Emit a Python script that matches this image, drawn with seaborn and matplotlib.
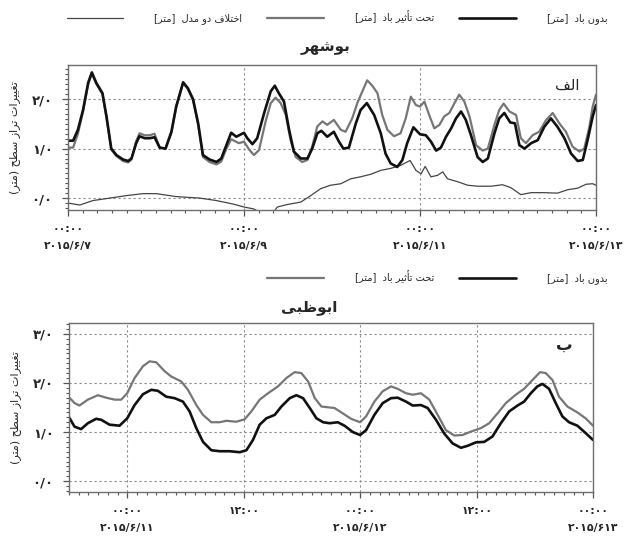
import matplotlib
matplotlib.use("Agg")
import matplotlib.pyplot as plt
import matplotlib.dates as mdates
from matplotlib.lines import Line2D
from matplotlib.ticker import MultipleLocator, FuncFormatter
import pandas as pd
import seaborn as sns

# ---------------- data ----------------
# Bushehr, hours after 2015-06-07 00:00, water level change [m]
bush_calm_h = [0, 1.4, 2.7, 4.1, 5.5, 6.5, 7.7, 9.4, 10.5, 11.8, 13.2, 15, 16.4, 17.3, 18.6, 19.5,
               20.9, 22.3, 23.6, 25, 26.6, 28.2, 29.5, 31.4, 32.7, 34.1, 35.5, 36.8, 38.6, 40.5,
               41.8, 43.2, 44.5, 45.9, 48, 48.9, 50.3, 51.6, 53.5, 55.3, 56.4, 57.5, 58.9, 60.3,
               61.6, 63.5, 65.3, 66.6, 68, 69.1, 70.7, 72.5, 73.9, 75.1, 76.6, 78.5, 79.8, 81.5,
               83.5, 85.3, 86.6, 88, 89.8, 91.2, 92.5, 94.2, 96, 97.6, 99, 100.4, 101.7, 103.1,
               104.5, 105.8, 107.2, 108.5, 109.9, 111.7, 113.1, 114.5, 116.3, 117.6, 119, 120.6,
               121.9, 123.1, 124.5, 126.3, 128.1, 129.9, 131.7, 133.5, 135.4, 137.2, 139, 140.4,
               141.7, 143.1, 144]
bush_calm_m = [1.16, 1.16, 1.38, 1.78, 2.33, 2.54, 2.33, 2.12, 1.65, 1.0, 0.87, 0.78, 0.75, 0.80,
               1.11, 1.25, 1.21, 1.21, 1.23, 1.02, 1.0, 1.34, 1.85, 2.34, 2.22, 2.0, 1.51, 0.87,
               0.78, 0.73, 0.80, 1.07, 1.32, 1.24, 1.32, 1.21, 1.09, 1.21, 1.72, 2.16, 2.27, 2.12,
               1.95, 1.38, 0.94, 0.80, 0.80, 1.0, 1.31, 1.36, 1.24, 1.34, 1.14, 1.0, 1.02, 1.51,
               1.78, 1.92, 1.68, 1.31, 0.90, 0.70, 0.63, 0.77, 1.11, 1.43, 1.29, 1.27, 1.14, 0.96,
               1.02, 1.24, 1.41, 1.61, 1.75, 1.58, 1.27, 0.83, 0.73, 0.80, 1.31, 1.61, 1.72, 1.53,
               1.51, 1.07, 1.0, 1.11, 1.17, 1.44, 1.61, 1.44, 1.21, 0.90, 0.75, 0.77, 1.17, 1.65,
               1.88]

bush_wind_h = [0, 1.4, 2.7, 4.1, 5.5, 6.5, 7.7, 9.4, 10.5, 11.8, 13.2, 15, 16.4, 17.3, 18.6, 19.5,
               20.9, 22.3, 23.6, 25, 26.6, 28.2, 29.5, 31.4, 32.7, 34.1, 35.5, 36.8, 38.6, 40.5,
               41.8, 43.2, 44.5, 46.6, 48, 49.4, 50.7, 52.1, 53.9, 55.3, 56.6, 58, 59.4, 60.7,
               62.1, 63.9, 65.3, 66.6, 68, 69.4, 70.7, 72.5, 74.4, 75.7, 77.5, 78.9, 80.3, 81.6,
               83, 84.4, 85.7, 87.1, 88.9, 90.7, 92.1, 93.5, 94.9, 96, 97.2, 98.5, 99.9, 101.3,
               102.6, 104, 105.4, 106.7, 108.1, 109.5, 111.3, 113.1, 114.5, 116.3, 117.6, 118.8,
               120.4, 122.2, 123.5, 124.9, 126.7, 128.5, 130.4, 132.2, 134, 135.8, 137.6, 139.5,
               140.8, 142.2, 143.1, 144]
bush_wind_m = [1.02, 1.02, 1.30, 1.75, 2.30, 2.52, 2.31, 2.10, 1.62, 0.98, 0.85, 0.75, 0.72, 0.78,
               1.15, 1.31, 1.27, 1.27, 1.30, 1.02, 1.0, 1.32, 1.83, 2.33, 2.20, 1.98, 1.48, 0.83,
               0.73, 0.68, 0.74, 1.0, 1.19, 1.11, 1.14, 0.98, 0.87, 0.97, 1.55, 1.92, 2.03, 1.92,
               1.68, 1.17, 0.83, 0.73, 0.77, 1.04, 1.45, 1.55, 1.48, 1.58, 1.38, 1.34, 1.61, 1.92,
               2.16, 2.38, 2.27, 2.12, 1.68, 1.38, 1.25, 1.31, 1.61, 2.05, 1.88, 1.85, 1.95, 1.68,
               1.41, 1.48, 1.65, 1.72, 1.92, 2.09, 1.95, 1.65, 1.07, 0.96, 1.0, 1.48, 1.78, 1.91,
               1.75, 1.68, 1.21, 1.11, 1.27, 1.34, 1.58, 1.72, 1.51, 1.34, 1.04, 0.94, 1.0, 1.44,
               1.85, 2.09]

bush_diff_h = [0, 3.2, 6.8, 11.4, 15.9, 20.5, 24.1, 29.5, 35.9, 40.5, 45, 48, 50.7, 52.5, 55.3,
               56.2, 57.1, 59.8, 63.5, 66.2, 68.9, 71.6, 74.4, 77.1, 79.8, 82.5, 85.3, 88, 90.7,
               92.5, 93.3, 94.9, 96.3, 97.4, 99, 100.8, 102.2, 103.5, 106.3, 109, 111.7, 115.4,
               118.5, 120.8, 123.5, 126.3, 129.9, 133.5, 136.3, 139, 141.3, 143.1, 144]
bush_diff_m = [-0.10, -0.14, -0.05, 0.0, 0.05, 0.09, 0.09, 0.03, 0.0, -0.05, -0.12, -0.18, -0.22,
               -0.30, -0.28, -0.27, -0.18, -0.13, -0.08, 0.05, 0.19, 0.26, 0.29, 0.39, 0.43, 0.48,
               0.56, 0.60, 0.66, 0.73, 0.76, 0.56, 0.49, 0.64, 0.43, 0.46, 0.53, 0.39, 0.33, 0.26,
               0.24, 0.24, 0.27, 0.21, 0.07, 0.11, 0.11, 0.10, 0.17, 0.20, 0.28, 0.29, 0.26]

# Abu Dhabi, hours after 2015-06-11 00:00
abu_calm_h = [-6.05, -5.43, -4.75, -4.06, -3.2, -2.68, -1.82, -0.79, 0, 0.76, 1.62, 2.48, 3.16,
              4.02, 4.88, 5.74, 6.43, 7.12, 7.81, 8.67, 9.53, 10.56, 11.59, 12.28, 12.96, 13.65,
              14.34, 15.2, 15.89, 16.75, 17.43, 18.12, 18.81, 19.5, 20.19, 20.87, 21.7, 22.39,
              23.25, 24, 24.62, 25.47, 26.33, 27.19, 27.87, 28.73, 29.42, 30.27, 30.96, 31.82,
              32.67, 33.53, 34.39, 35.07, 35.93, 36.79, 37.64, 38.5, 39.36, 40.22, 40.9, 41.59,
              42.27, 42.79, 43.47, 44.16, 44.84, 45.53, 46.39, 47.07, 48]
abu_calm_m = [1.32, 1.11, 1.06, 1.18, 1.27, 1.25, 1.15, 1.13, 1.28, 1.55, 1.77, 1.86, 1.84, 1.72,
              1.69, 1.62, 1.42, 1.08, 0.80, 0.63, 0.61, 0.61, 0.59, 0.63, 0.84, 1.15, 1.28, 1.35,
              1.52, 1.69, 1.75, 1.69, 1.49, 1.28, 1.20, 1.18, 1.20, 1.13, 1.0, 0.94, 1.04, 1.35,
              1.59, 1.69, 1.70, 1.62, 1.54, 1.55, 1.49, 1.25, 0.97, 0.77, 0.68, 0.72, 0.79, 0.80,
              0.91, 1.18, 1.42, 1.54, 1.62, 1.79, 1.93, 1.98, 1.88, 1.59, 1.32, 1.20, 1.13, 1.01,
              0.84]

abu_wind_h = [-6.05, -5.43, -4.92, -4.06, -3.03, -2.17, -1.31, -0.62, 0, 0.76, 1.62, 2.3, 2.99,
              3.85, 4.54, 5.57, 6.26, 7.12, 7.81, 8.67, 9.53, 10.21, 11.24, 12.1, 12.79, 13.65,
              14.51, 15.54, 16.4, 17.26, 17.95, 18.64, 19.33, 20.01, 20.87, 21.36, 22.22, 23.07,
              24, 24.62, 25.47, 26.33, 27.19, 27.87, 28.73, 29.42, 30.27, 31.13, 31.99, 32.84,
              33.7, 34.56, 35.42, 36.44, 37.3, 38.16, 39.02, 40.04, 40.9, 41.76, 42.55, 43.13,
              43.82, 44.5, 45.36, 46.39, 47.24, 48]
abu_wind_m = [1.72, 1.59, 1.54, 1.66, 1.75, 1.70, 1.66, 1.66, 1.79, 2.10, 2.34, 2.44, 2.42, 2.24,
              2.13, 2.03, 1.86, 1.55, 1.35, 1.20, 1.20, 1.23, 1.21, 1.26, 1.42, 1.66, 1.79, 1.93,
              2.10, 2.22, 2.20, 2.03, 1.69, 1.52, 1.50, 1.49, 1.38, 1.27, 1.20, 1.32, 1.62, 1.83,
              1.93, 1.88, 1.79, 1.76, 1.79, 1.66, 1.35, 1.04, 0.93, 0.94, 1.01, 1.08, 1.18, 1.38,
              1.59, 1.76, 1.88, 2.06, 2.22, 2.20, 2.06, 1.72, 1.52, 1.40, 1.28, 1.13]

bush_ticks = ["2015-06-07", "2015-06-09", "2015-06-11", "2015-06-13"]
bush_tick_labels = ["۰۰:۰۰\n۲۰۱۵/۶/۷", "۰۰:۰۰\n۲۰۱۵/۶/۹", "۰۰:۰۰\n۲۰۱۵/۶/۱۱", "۰۰:۰۰\n۲۰۱۵/۶/۱۳"]
abu_ticks = ["2015-06-11 00:00", "2015-06-11 12:00", "2015-06-12 00:00", "2015-06-12 12:00",
             "2015-06-13 00:00"]
abu_tick_labels = ["۰۰:۰۰\n۲۰۱۵/۶/۱۱", "۱۲:۰۰", "۰۰:۰۰\n۲۰۱۵/۶/۱۲", "۱۲:۰۰", "۰۰:۰۰\n۲۰۱۵/۶۱۳"]

lbl_calm = "بدون باد  [متر]"
lbl_wind = "تحت تأثیر باد  [متر]"
lbl_diff = "اختلاف دو مدل  [متر]"
ylabel = "تغییرات تراز سطح (متر)"

# ---------------- minimal Persian shaping (no bidi lib available) ----------------
FORMS = {
    "ا": ("\uFE8D", "\uFE8E", None, None),
    "أ": ("\uFE83", "\uFE84", None, None),
    "ب": ("\uFE8F", "\uFE90", "\uFE91", "\uFE92"),
    "ت": ("\uFE95", "\uFE96", "\uFE97", "\uFE98"),
    "ث": ("\uFE99", "\uFE9A", "\uFE9B", "\uFE9C"),
    "ح": ("\uFEA1", "\uFEA2", "\uFEA3", "\uFEA4"),
    "خ": ("\uFEA5", "\uFEA6", "\uFEA7", "\uFEA8"),
    "د": ("\uFEA9", "\uFEAA", None, None),
    "ر": ("\uFEAD", "\uFEAE", None, None),
    "ز": ("\uFEAF", "\uFEB0", None, None),
    "س": ("\uFEB1", "\uFEB2", "\uFEB3", "\uFEB4"),
    "ش": ("\uFEB5", "\uFEB6", "\uFEB7", "\uFEB8"),
    "ط": ("\uFEC1", "\uFEC2", "\uFEC3", "\uFEC4"),
    "ظ": ("\uFEC5", "\uFEC6", "\uFEC7", "\uFEC8"),
    "غ": ("\uFECD", "\uFECE", "\uFECF", "\uFED0"),
    "ف": ("\uFED1", "\uFED2", "\uFED3", "\uFED4"),
    "ل": ("\uFEDD", "\uFEDE", "\uFEDF", "\uFEE0"),
    "م": ("\uFEE1", "\uFEE2", "\uFEE3", "\uFEE4"),
    "ن": ("\uFEE5", "\uFEE6", "\uFEE7", "\uFEE8"),
    "ه": ("\uFEE9", "\uFEEA", "\uFEEB", "\uFEEC"),
    "و": ("\uFEED", "\uFEEE", None, None),
    "ی": ("\uFEEF", "\uFEF0", "\uFEF3", "\uFEF4"),
}
MIRROR = {"(": ")", ")": "(", "[": "]", "]": "["}


def fa(text):
    def dual(c):
        return c in FORMS and FORMS[c][2] is not None

    out, i = [], 0
    while i < len(text):
        c = text[i]
        prev = text[i - 1] if i > 0 else ""
        nxt = text[i + 1] if i + 1 < len(text) else ""
        if c == "ل" and nxt == "ا":
            out.append("\uFEFC" if dual(prev) else "\uFEFB")
            i += 2
            continue
        if c not in FORMS:
            out.append(MIRROR.get(c, c))
            i += 1
            continue
        iso, fin, ini, med = FORMS[c]
        a, b = dual(prev), (ini is not None and nxt in FORMS)
        out.append(med if a and b else fin if a else ini if b else iso)
        i += 1
    return "".join(reversed(out))


def fa_num(v, _pos=None):
    return f"{v:.1f}".translate(str.maketrans("0123456789.", "۰۱۲۳۴۵۶۷۸۹/"))


# ---------------- plotting ----------------
sns.set_theme(style="white")
plt.rcParams["font.family"] = ["DejaVu Sans"]

C_CALM, C_WIND, C_DIFF = "#111111", "#767676", "#454545"
GRID = dict(color="#8a8a8a", linestyle=(0, (2, 2.5)), linewidth=0.8)

fig = plt.figure(figsize=(6.25, 5.37), dpi=100)
ax1 = fig.add_axes([0.1088, 0.609, 0.8448, 0.270])
ax2 = fig.add_axes([0.1104, 0.0838, 0.8384, 0.3147])


def to_time(base, hours):
    return pd.Timestamp(base) + pd.to_timedelta(hours, unit="h")


line_kw = dict(legend=False, solid_joinstyle="round")
sns.lineplot(x=to_time("2015-06-07", bush_diff_h), y=bush_diff_m, ax=ax1, color=C_DIFF,
             linewidth=0.9, **line_kw)
sns.lineplot(x=to_time("2015-06-07", bush_wind_h), y=bush_wind_m, ax=ax1, color=C_WIND,
             linewidth=1.6, **line_kw)
sns.lineplot(x=to_time("2015-06-07", bush_calm_h), y=bush_calm_m, ax=ax1, color=C_CALM,
             linewidth=1.9, **line_kw)

sns.lineplot(x=to_time("2015-06-11", abu_wind_h), y=abu_wind_m, ax=ax2, color=C_WIND,
             linewidth=1.6, **line_kw)
sns.lineplot(x=to_time("2015-06-11", abu_calm_h), y=abu_calm_m, ax=ax2, color=C_CALM,
             linewidth=1.9, **line_kw)

ax1.set_xlim(pd.Timestamp("2015-06-07"), pd.Timestamp("2015-06-13"))
ax1.set_ylim(-0.24, 2.69)
ax1.set_yticks([0, 1, 2])
ax1.xaxis.set_minor_locator(mdates.HourLocator(interval=4))
ax1.set_xticks(pd.to_datetime(bush_ticks))
ax1.set_xticklabels(bush_tick_labels)

ax2.set_xlim(pd.Timestamp("2015-06-10 18:00"), pd.Timestamp("2015-06-13"))
ax2.set_ylim(-0.22, 3.22)
ax2.set_yticks([0, 1, 2, 3])
ax2.xaxis.set_minor_locator(mdates.HourLocator(interval=1))
ax2.set_xticks(pd.to_datetime(abu_ticks))
ax2.set_xticklabels(abu_tick_labels)

for ax in (ax1, ax2):
    ax.yaxis.set_minor_locator(MultipleLocator(0.1))
    ax.yaxis.set_major_formatter(FuncFormatter(fa_num))
    ax.grid(True, which="major", **GRID)
    for sp in ax.spines.values():
        sp.set_color("#6e6e6e")
        sp.set_linewidth(1.0)
    ax.tick_params(axis="both", which="major", direction="out", length=4, width=0.9,
                   color="#555555", bottom=True, left=True)
    ax.tick_params(axis="both", which="minor", direction="out", length=2.5, width=0.8,
                   color="#555555", bottom=True, left=True)
    ax.tick_params(axis="y", labelsize=9.5, pad=7)
    ax.tick_params(axis="x", labelsize=7.8, pad=6)
    for t in ax.get_yticklabels():
        t.set_fontweight("bold")
    for t in ax.get_xticklabels():
        t.set_fontweight("bold")
        t.set_linespacing(1.9)
    ax.set_xlabel("")
    ax.set_ylabel(fa(ylabel), fontsize=8, labelpad=8)

ax1.text(0.945, 0.86, fa("الف"), transform=ax1.transAxes, fontsize=11, ha="center", va="center")
ax2.text(0.945, 0.87, fa("ب"), transform=ax2.transAxes, fontsize=12, fontweight="bold",
         ha="center", va="center")

fig.text(0.52, 0.911, fa("بوشهر"), fontsize=11, fontweight="bold", ha="center", va="center")
fig.text(0.495, 0.428, fa("ابوظبی"), fontsize=11, fontweight="bold", ha="center", va="center")

h_calm = Line2D([], [], color=C_CALM, linewidth=1.9)
h_wind = Line2D([], [], color=C_WIND, linewidth=1.6)
h_diff = Line2D([], [], color=C_DIFF, linewidth=0.9)
leg_kw = dict(loc="center right", frameon=False, fontsize=7, handlelength=5.8,
              handletextpad=3.2, columnspacing=2.6, borderaxespad=0, borderpad=0)
fig.legend([h_diff, h_wind, h_calm], [fa(lbl_diff), fa(lbl_wind), fa(lbl_calm)], ncol=3,
           bbox_to_anchor=(0.972, 0.968), **leg_kw)
fig.legend([h_wind, h_calm], [fa(lbl_wind), fa(lbl_calm)], ncol=2,
           bbox_to_anchor=(0.972, 0.484), **leg_kw)

fig.savefig("out.png", dpi=100)
